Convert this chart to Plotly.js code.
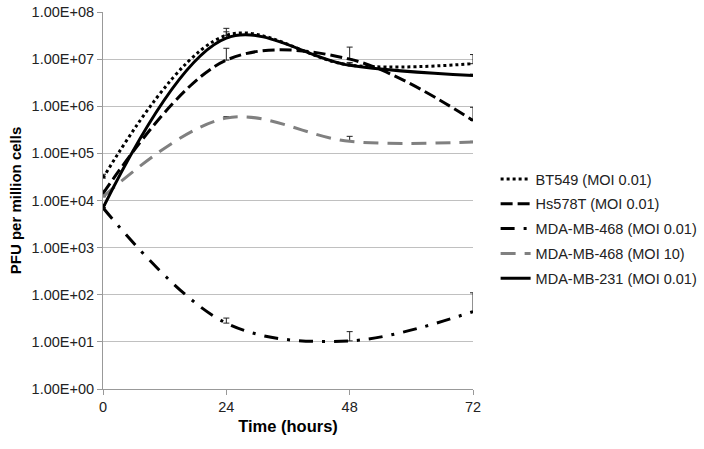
<!DOCTYPE html>
<html>
<head>
<meta charset="utf-8">
<script src="https://cdn.plot.ly/plotly-3.0.1.min.js"></script>
<style>
  html, body { margin: 0; padding: 0; background: #fff; }
  #chart { width: 704px; height: 449px; }
</style>
</head>
<body>
<div id="chart"></div>
<script>
// Time points (hours)
const hours = [0, 24, 48, 72];

// PFU per million cells
const bt549 = [3.0e4, 3.2e7, 7.5e6, 8.0e6];
const bt549Err = [6e3, 1.3e7, 1e6, 4.5e6];

const hs578t = [1.4e4, 9.5e6, 1.0e7, 5.0e5];
const hs578tErr = [2.5e3, 7.5e6, 8e6, 4.5e5];

const mda468Low = [7.0e3, 25, 10.5, 44];
const mda468LowErr = [1e3, 7, 6, 66];

const mda468High = [1.2e4, 5.6e5, 1.8e5, 1.75e5];
const mda468HighErr = [1.5e3, 4e4, 5e4, 5e3];

const mda231 = [7.0e3, 2.8e7, 7.4e6, 4.5e6];
const mda231Err = [1e3, 1e7, 5e5, 3e5];

const yTickVals = [1, 10, 100, 1e3, 1e4, 1e5, 1e6, 1e7, 1e8];
const yTickText = ['1.00E+00', '1.00E+01', '1.00E+02', '1.00E+03', '1.00E+04',
                   '1.00E+05', '1.00E+06', '1.00E+07', '1.00E+08'];

const FONT = 'Liberation Sans, Arial, sans-serif';

function series(name, y, err, color, dash) {
  return {
    type: 'scatter',
    mode: 'lines',
    name,
    legendgroup: name,
    x: hours,
    y,
    line: { color, width: 3, dash, shape: 'spline', smoothing: 1 },
    error_y: {
      type: 'data', symmetric: false, array: err,
      arrayminus: err.map(() => 0),
      color: '#222', thickness: 1, width: 3,
    },
  };
}

const traces = [
  series('BT549 (MOI 0.01)', bt549, bt549Err, '#000', '3px,3px'),
  series('Hs578T (MOI 0.01)', hs578t, hs578tErr, '#000', '12px,5px'),
  series('MDA-MB-468 (MOI 0.01)', mda468Low, mda468LowErr, '#000', '14px,9px,3px,9px'),
  series('MDA-MB-468 (MOI 10)', mda468High, mda468HighErr, '#808080', '15px,9px'),
  series('MDA-MB-231 (MOI 0.01)', mda231, mda231Err, '#000', 'solid'),
];

const layout = {
  width: 704,
  height: 449,
  paper_bgcolor: '#fff',
  plot_bgcolor: '#fff',
  font: { family: FONT, color: '#222', size: 14.5 },
  margin: { t: 12, r: 231, b: 60, l: 103 },
  showlegend: true,
  legend: {
    xref: 'container', yref: 'container',
    x: 0.704, xanchor: 'left', y: 0.637, yanchor: 'top',
    font: { family: FONT, size: 14.5, color: '#222' },
    tracegroupgap: 3,
    itemwidth: 30,
    bgcolor: 'rgba(0,0,0,0)',
  },
  xaxis: {
    range: [0, 72],
    tickvals: [0, 24, 48, 72],
    ticks: 'outside', ticklen: 5, tickcolor: '#999',
    showgrid: false, zeroline: false,
    showline: true, linecolor: '#999', linewidth: 1,
    tickfont: { size: 14.5, color: '#222' },
    title: { text: '<b>Time (hours)</b>', font: { size: 16.5, color: '#000' }, standoff: 6 },
  },
  yaxis: {
    type: 'log',
    range: [0, 8],
    tickvals: yTickVals,
    ticktext: yTickText,
    ticks: 'outside', ticklen: 5, tickcolor: '#999',
    showgrid: true, gridcolor: '#c0c0c0', gridwidth: 1,
    zeroline: false,
    showline: true, linecolor: '#999', linewidth: 1,
    tickfont: { size: 14.5, color: '#222' },
    title: { text: '<b>PFU per million cells</b>', font: { size: 15, color: '#000' }, standoff: 6 },
  },
};

Plotly.newPlot('chart', traces, layout, { displayModeBar: false, staticPlot: true });
</script>
</body>
</html>
